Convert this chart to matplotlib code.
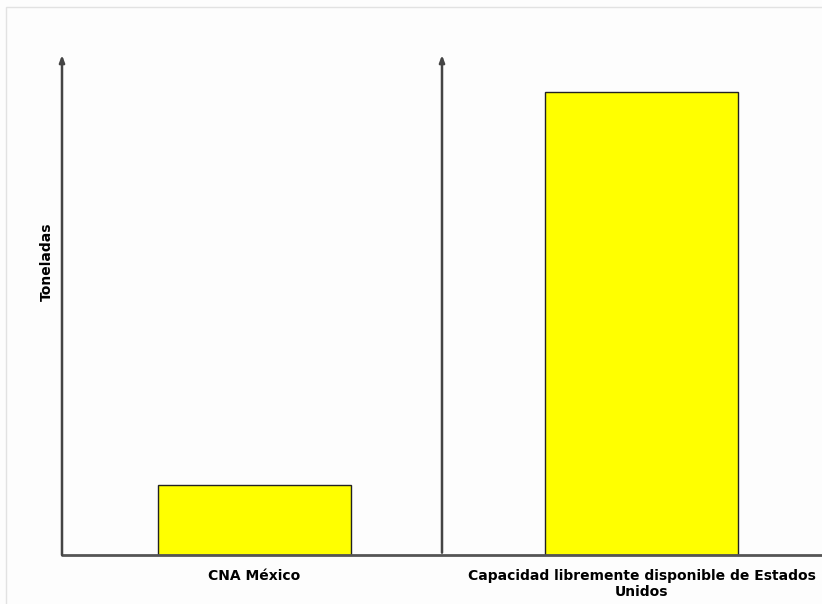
import matplotlib
matplotlib.use("Agg")
from matplotlib import pyplot as plt
from matplotlib.patches import Rectangle

categories = ["CNA México", "Capacidad libremente disponible de Estados\nUnidos"]
values = [15.1, 100.0]
y_label = "Toneladas"

fig = plt.figure(figsize=(8.22, 6.04), dpi=100)
fig.patch.set_facecolor("#fdfdfd")

# light frame along top and left edge
fig.patches.append(Rectangle((6 / 822, -0.1), 1.2, (604 - 7) / 604 + 0.1,
                             transform=fig.transFigure, fill=False,
                             edgecolor="#e2e2e2", lw=1))

ax = fig.add_axes([62 / 822, 49 / 604, 760 / 822, 500 / 604])
ax.set_facecolor("none")

pos = list(range(len(categories)))
ax.bar(pos, values, width=0.498, color="#ffff00", edgecolor="#222222", linewidth=1)
ax.set_xlim(-0.497, 1.465)
ax.set_ylim(0, 108)

for s in ax.spines.values():
    s.set_visible(False)
ax.set_xticks([])
ax.set_yticks([])

# axis lines with arrow heads
axis_col = "#555555"
ax.plot([-0.497, 1.465], [0, 0], color=axis_col, lw=2, clip_on=False, solid_capstyle="round")
for x in (-0.497, 0.484):
    ax.annotate("", xy=(x, 108), xytext=(x, 0 if x < 0 else 0.5),
                arrowprops=dict(arrowstyle="-|>,head_length=0.4,head_width=0.15",
                                color="#444444", lw=1.8, shrinkA=0, shrinkB=0),
                annotation_clip=False)

font = dict(fontsize=10, fontweight="bold", family="DejaVu Sans", color="black")
for p, c in zip(pos, categories):
    ax.text(p, -3.0, c, ha="center", va="top", linespacing=1.15, **font)

fig.text(47 / 822, 1 - 262 / 604, y_label, rotation=90, ha="center", va="center", **font)

fig.savefig("out.png", dpi=100, facecolor=fig.get_facecolor())
